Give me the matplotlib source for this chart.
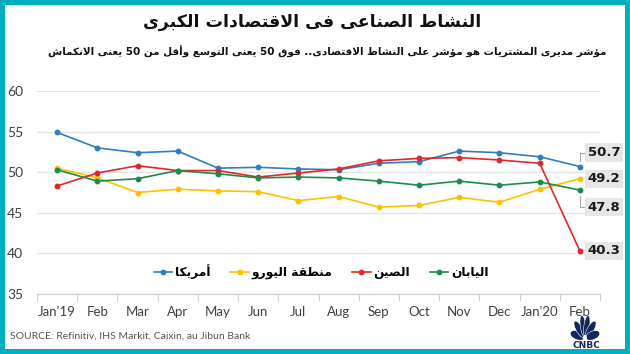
"""
Manufacturing PMI of major economies (Jan'19 - Feb'20), Arabic CNBC style chart.
Writes out.png (630x354).
"""
import numpy as np
import matplotlib
matplotlib.use("Agg")
import matplotlib.pyplot as plt
import matplotlib.patches as mpatches

plt.rcParams["font.family"] = ["Lato", "DejaVu Sans"]

# ── data ─────────────────────────────────────────────────────────────────────
months = ["Jan'19", "Feb", "Mar", "Apr", "May", "Jun", "Jul",
          "Aug", "Sep", "Oct", "Nov", "Dec", "Jan'20", "Feb"]

us    = [54.9, 53.0, 52.4, 52.6, 50.5, 50.6, 50.4, 50.3, 51.1, 51.3, 52.6, 52.4, 51.9, 50.7]
euro  = [50.5, 49.3, 47.5, 47.9, 47.7, 47.6, 46.5, 47.0, 45.7, 45.9, 46.9, 46.3, 47.9, 49.2]
china = [48.3, 49.9, 50.8, 50.2, 50.2, 49.4, 49.9, 50.4, 51.4, 51.7, 51.8, 51.5, 51.1, 40.3]
japan = [50.3, 48.9, 49.2, 50.2, 49.8, 49.3, 49.4, 49.3, 48.9, 48.4, 48.9, 48.4, 48.8, 47.8]

names  = ["أمريكا", "منطقة اليورو", "الصين", "اليابان"]
colors = ["#2F7DC2", "#FFC000", "#E0282B", "#1B8C4C"]

TITLE    = "النشاط الصناعى فى الاقتصادات الكبرى"
SUBTITLE = "مؤشر مديرى المشتريات هو مؤشر على النشاط الاقتصادى.. فوق 50 يعنى التوسع وأقل من 50 يعنى الانكماش"
SOURCE   = "SOURCE: Refinitiv, IHS Markit, Caixin, au Jibun Bank"

# label offsets (pixels) for the end-of-line value boxes
label_dy = {"أمريكا": 14, "منطقة اليورو": 0, "الصين": 0, "اليابان": -17}


# ── minimal arabic shaping (matplotlib has no bidi / joining) ────────────────
# letter -> (isolated presentation form, number of forms)
FORMS = {
    "ء": (0xFE80, 1), "آ": (0xFE81, 2), "أ": (0xFE83, 2), "ؤ": (0xFE85, 2),
    "إ": (0xFE87, 2), "ئ": (0xFE89, 4), "ا": (0xFE8D, 2), "ب": (0xFE8F, 4),
    "ة": (0xFE93, 2), "ت": (0xFE95, 4), "ث": (0xFE99, 4), "ج": (0xFE9D, 4),
    "ح": (0xFEA1, 4), "خ": (0xFEA5, 4), "د": (0xFEA9, 2), "ذ": (0xFEAB, 2),
    "ر": (0xFEAD, 2), "ز": (0xFEAF, 2), "س": (0xFEB1, 4), "ش": (0xFEB5, 4),
    "ص": (0xFEB9, 4), "ض": (0xFEBD, 4), "ط": (0xFEC1, 4), "ظ": (0xFEC5, 4),
    "ع": (0xFEC9, 4), "غ": (0xFECD, 4), "ف": (0xFED1, 4), "ق": (0xFED5, 4),
    "ك": (0xFED9, 4), "ل": (0xFEDD, 4), "م": (0xFEE1, 4), "ن": (0xFEE5, 4),
    "ه": (0xFEE9, 4), "و": (0xFEED, 2), "ى": (0xFEEF, 2), "ي": (0xFEF1, 4),
}
LAM_ALEF = {"آ": 0xFEF5, "أ": 0xFEF7, "إ": 0xFEF9, "ا": 0xFEFB}


def shape(text):
    out = []
    i, n = 0, len(text)
    prev_joins = False
    while i < n:
        c = text[i]
        if c not in FORMS:
            out.append(c)
            prev_joins = False
            i += 1
            continue
        if c == "ل" and i + 1 < n and text[i + 1] in LAM_ALEF:
            base = LAM_ALEF[text[i + 1]]
            out.append(chr(base + (1 if prev_joins else 0)))
            prev_joins = False
            i += 2
            continue
        base, nf = FORMS[c]
        nxt = text[i + 1] if i + 1 < n else ""
        joins_next = nf == 4 and nxt in FORMS
        if prev_joins and joins_next:
            form = base + 3
        elif prev_joins:
            form = base + 1
        elif joins_next:
            form = base + 2
        else:
            form = base
        out.append(chr(form))
        prev_joins = nf == 4
        i += 1
    # visual order: reverse, then put digit runs back to LTR
    vis = "".join(out)[::-1]
    res, run = [], []
    for ch in vis:
        if ch.isdigit():
            run.append(ch)
        else:
            if run:
                res.extend(run[::-1])
                run = []
            res.append(ch)
    res.extend(run[::-1])
    return "".join(res)


# ── figure ───────────────────────────────────────────────────────────────────
W, H = 630, 354
fig = plt.figure(figsize=(W / 100, H / 100), dpi=100, facecolor="#00AEBF")
fig.patches.append(mpatches.Rectangle((5 / W, 5 / H), 620 / W, 344 / H,
                                      transform=fig.transFigure,
                                      facecolor="white", edgecolor="none", zorder=-10))

ax = fig.add_axes([37 / W, 1 - 294 / H, 563 / W, 203 / H])
ax.set_facecolor("none")

x = np.arange(len(months))
series = [us, euro, china, japan]
for vals, name, col in zip(series, names, colors):
    ax.plot(x, vals, color=col, lw=1.2, marker="o", ms=3.2, label=shape(name), zorder=3)

# end value boxes
for vals, name in zip(series, names):
    dy = label_dy[name]
    arrow = None
    if dy != 0:
        arrow = dict(arrowstyle="-", color="#A6A6A6", lw=0.8,
                     connectionstyle="angle,angleA=0,angleB=90,rad=0",
                     shrinkA=0, shrinkB=4)
    ax.annotate(f"{vals[-1]:.1f}", xy=(x[-1], vals[-1]),
                xytext=(8, dy), textcoords="offset pixels",
                ha="left", va="center", fontsize=9.5, fontweight="bold",
                color="#1A1A1A", family="DejaVu Sans",
                bbox=dict(boxstyle="square,pad=0.2", fc="#E6E6E6", ec="none"),
                arrowprops=arrow, annotation_clip=False, zorder=4)

ax.set_xlim(-0.5, len(months) - 0.5)
ax.set_ylim(35, 60)
ax.set_yticks(np.arange(35, 61, 5))
ax.grid(axis="y", color="#E3E3E3", lw=0.9)
ax.set_axisbelow(True)

# category axis: tick marks at bin edges, labels at centres
ax.set_xticks(np.arange(-0.5, len(months), 1.0))
ax.set_xticklabels([])
ax.set_xticks(x, minor=True)
ax.set_xticklabels(months, minor=True)
ax.tick_params(axis="x", which="major", length=5, color="#D0D0D0", width=0.8)
ax.tick_params(axis="x", which="minor", length=0, pad=9, labelsize=9.5, labelcolor="#404040")
ax.tick_params(axis="y", length=0, pad=10, labelsize=10, labelcolor="#404040")

for s in ["top", "right", "left"]:
    ax.spines[s].set_visible(False)
ax.spines["bottom"].set_color("#D0D0D0")
ax.spines["bottom"].set_linewidth(0.9)

leg = ax.legend(loc="center", bbox_to_anchor=(0.505, 0.11), ncol=4, frameon=False,
                handlelength=1.5, handletextpad=0.25, columnspacing=1.6,
                prop=dict(family="DejaVu Sans", weight="bold", size=8.8))

# ── texts ────────────────────────────────────────────────────────────────────
fig.text(0.495, 1 - 22 / H, shape(TITLE), ha="center", va="center",
         fontsize=12.5, fontweight="bold", family="DejaVu Sans", color="#111111")
fig.text(607 / W, 1 - 52 / H, shape(SUBTITLE), ha="right", va="center",
         fontsize=7.5, fontweight="bold", family="DejaVu Sans", color="#111111")
fig.text(10 / W, 1 - 336 / H, SOURCE, ha="left", va="center",
         fontsize=7.5, color="#555555")

# ── CNBC peacock (simplified) ────────────────────────────────────────────────
lax = fig.add_axes([570 / W, 1 - 340 / H, 30 / W, 26 / H])
lax.set_xlim(-1.1, 1.1)
lax.set_ylim(-0.1, 1.15)
lax.axis("off")
navy = "#13245E"
for ang in [168, 135, 103, 77, 45, 12]:
    a = np.deg2rad(ang)
    lax.add_patch(mpatches.Ellipse((0.58 * np.cos(a), 0.58 * np.sin(a)), 0.42, 1.05,
                                   angle=ang - 90, fc=navy, ec="white", lw=0.4))
lax.add_patch(mpatches.Circle((0, 0.0), 0.14, fc="white", ec="none"))
fig.text(586 / W, 1 - 345 / H, "CNBC", ha="center", va="center",
         fontsize=6.5, fontweight="bold", family="DejaVu Sans", color=navy)

fig.savefig("out.png", dpi=100, facecolor=fig.get_facecolor())
